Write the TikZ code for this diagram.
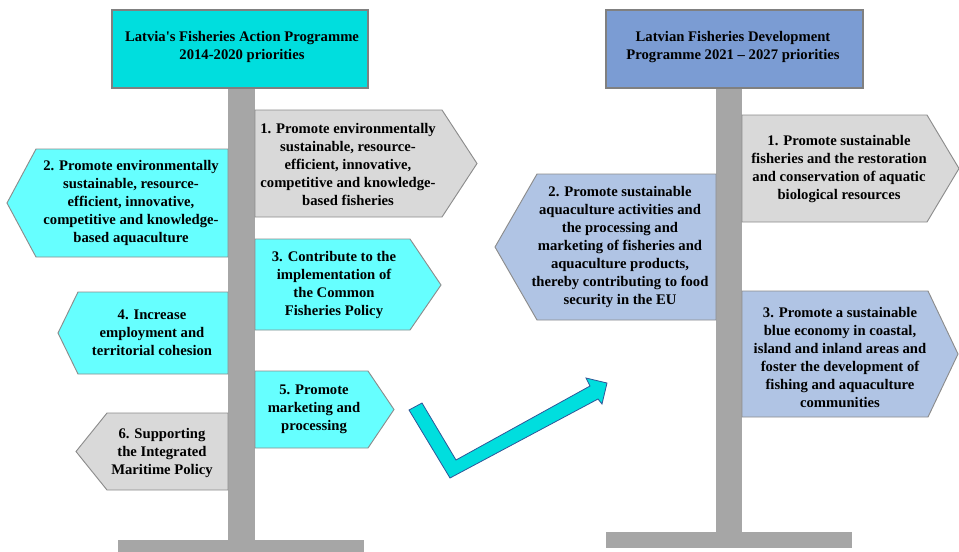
\documentclass[tikz,border=0pt]{standalone}
\usepackage{fontspec}
\setmainfont{Liberation Serif}[Ligatures=TeXOff]
\definecolor{titleA}{RGB}{0,222,222}
\definecolor{titleB}{RGB}{123,156,211}
\definecolor{lcyan}{RGB}{102,255,255}
\definecolor{lgray}{RGB}{217,217,217}
\definecolor{pole}{RGB}{166,166,166}
\definecolor{lblue}{RGB}{176,196,228}
\definecolor{edge}{RGB}{140,140,140}
\definecolor{tedge}{RGB}{128,128,128}
\definecolor{arrowedge}{RGB}{47,85,151}
\tikzset{
  polebar/.style={fill=pole, draw=none},
  signbox/.style={draw=edge, line width=0.7pt, line join=miter},
  titlebox/.style={draw=tedge, line width=2pt},
  txt/.style={align=center, inner sep=0pt, font=\fontsize{11}{13.5}\selectfont\bfseries, text=black},
}
\begin{document}
\begin{tikzpicture}[x=0.75pt, y=-0.75pt]
\useasboundingbox (0,0) rectangle (959,551);
% ---------- left signpost ----------
\path[polebar] (228,88) rectangle (255,540);
\path[polebar] (118,540) rectangle (364,553);
\path[titlebox, fill=titleA] (112,10) rectangle (368,88);
\node[txt] (ltitle) at (242,47) {Latvia's Fisheries Action Programme\\2014-2020 priorities};

\path[signbox, fill=lgray] (255,110) -- (442,110) -- (477,163.5) -- (442,217) -- (255,217) -- cycle;
\node[txt] (l1) at (348,164) {1. Promote environmentally\\sustainable, resource-\\efficient, innovative,\\competitive and knowledge-\\based fisheries};

\path[signbox, fill=lcyan] (228,149) -- (36,149) -- (7,203) -- (36,257) -- (228,257) -- cycle;
\node[txt] (l2) at (131,203) {2. Promote environmentally\\sustainable, resource-\\efficient, innovative,\\competitive and knowledge-\\based aquaculture};

\path[signbox, fill=lcyan] (255,239) -- (410,239) -- (441,285) -- (410,330) -- (255,330) -- cycle;
\node[txt] (l3) at (334,285) {3. Contribute to the\\implementation of\\the Common\\Fisheries Policy};

\path[signbox, fill=lcyan] (228,292) -- (78,292) -- (58,333) -- (78,374) -- (228,374) -- cycle;
\node[txt] (l4) at (152,333) {4. Increase\\employment and\\territorial cohesion};

\path[signbox, fill=lcyan] (255,371) -- (368,371) -- (394,409.5) -- (368,448) -- (255,448) -- cycle;
\node[txt] (l5) at (314,409) {5. Promote\\marketing and\\processing};

\path[signbox, fill=lgray] (228,413) -- (107,413) -- (76,451.5) -- (107,490) -- (228,490) -- cycle;
\node[txt] (l6) at (162,453) {6. Supporting\\the Integrated\\Maritime Policy};

% ---------- right signpost ----------
\path[polebar] (716,88) rectangle (742,532);
\path[polebar] (606,532) rectangle (852,548);
\path[titlebox, fill=titleB] (606,10) rectangle (863,88);
\node[txt] (rtitle) at (733,47) {Latvian Fisheries Development\\Programme 2021 – 2027 priorities};

\path[signbox, fill=lgray] (742,115) -- (927,115) -- (959,168.5) -- (927,222) -- (742,222) -- cycle;
\node[txt] (r1) at (839,169) {1. Promote sustainable\\fisheries and the restoration\\and conservation of aquatic\\biological resources};

\path[signbox, fill=lblue] (716,174) -- (537,174) -- (495,247) -- (537,320) -- (716,320) -- cycle;
\node[txt] (r2) at (620,247) {2. Promote sustainable\\aquaculture activities and\\the processing and\\marketing of fisheries and\\aquaculture products,\\thereby contributing to food\\security in the EU};

\path[signbox, fill=lblue] (742,291) -- (928,291) -- (958,354) -- (928,417) -- (742,417) -- cycle;
\node[txt] (r3) at (840,357) {3. Promote a sustainable\\blue economy in coastal,\\island and inland areas and\\foster the development of\\fishing and aquaculture\\communities};

% ---------- bent arrow ----------
\path[fill=titleA, draw=arrowedge, line width=0.6pt, line join=miter]
  (409,410) -- (422,403) -- (456,460) -- (590,386) -- (586,378) -- (607,383)
  -- (602,404) -- (598,399) -- (450,478) -- cycle;
\end{tikzpicture}
\end{document}
